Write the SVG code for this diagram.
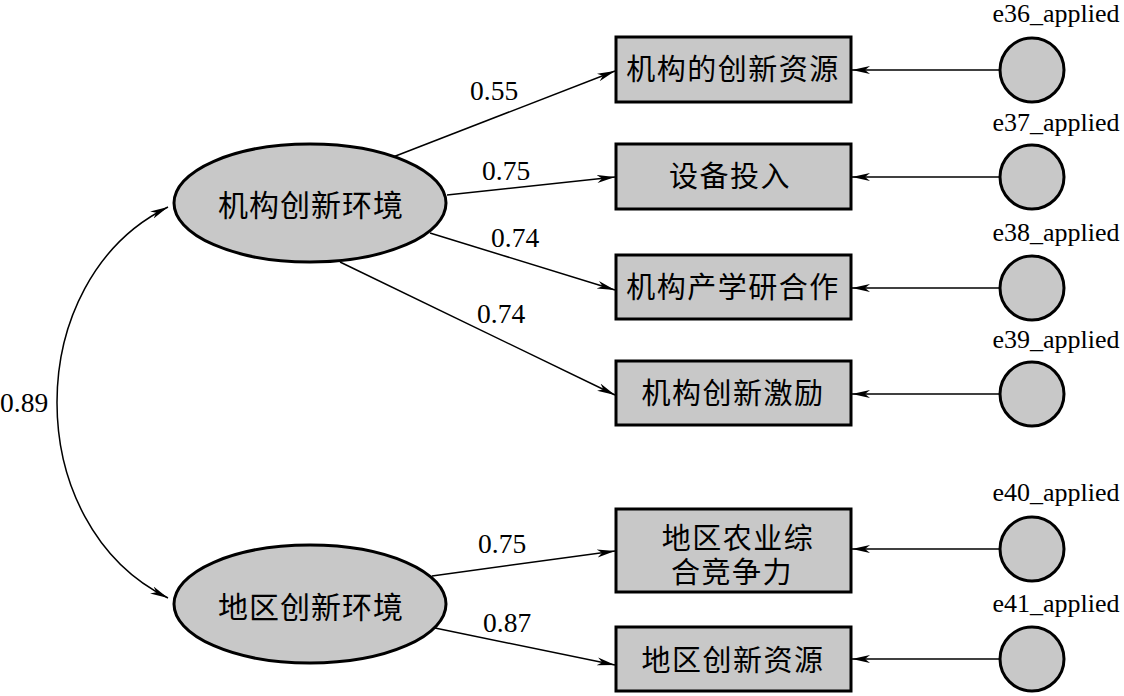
<svg xmlns="http://www.w3.org/2000/svg" width="1124" height="696" viewBox="0 0 1124 696">
<defs>
<marker id="arr" markerUnits="userSpaceOnUse" markerWidth="20" markerHeight="10" refX="18" refY="5" orient="auto-start-reverse">
<path d="M0,1 L18,5 L0,9 L5,5 z" fill="#000"/>
</marker>
</defs>
<style>
.box{fill:#c8c8c8;stroke:#000;stroke-width:3}
.lat{fill:#c8c8c8;stroke:#000;stroke-width:3}
.err{fill:#c8c8c8;stroke:#000;stroke-width:3}
.cn{font-size:29px;fill:#000;text-anchor:middle;letter-spacing:1.5px}
.cnl{font-size:30px;fill:#000;text-anchor:middle;letter-spacing:1px}
.num{font-size:27.5px;fill:#000}
.lbl{font-size:26px;fill:#000;text-anchor:middle}
.ln{fill:none;stroke:#000;stroke-width:1.5;marker-end:url(#arr)}
</style>
<rect width="1124" height="696" fill="#fff"/>
<g id="connectors">
<path class="ln" d="M168,207 C20,280 20,525 168,598" marker-start="url(#arr)"/>
<path class="ln" d="M393,157 L615,71"/>
<path class="ln" d="M447,195 L615,177"/>
<path class="ln" d="M430,233 L615,290"/>
<path class="ln" d="M340,262 L615,395"/>
<path class="ln" d="M432,576 L615,551"/>
<path class="ln" d="M435,628 L615,665"/>
<path class="ln" d="M999,70 L852,70"/>
<path class="ln" d="M999,177 L852,177"/>
<path class="ln" d="M999,288 L852,288"/>
<path class="ln" d="M999,394 L852,394"/>
<path class="ln" d="M999,549 L852,549"/>
<path class="ln" d="M999,659 L852,659"/>
<g font-family="Liberation Serif, Times New Roman, serif">
<text class="num" x="0" y="412">0.89</text>
<text class="num" x="470" y="100">0.55</text>
<text class="num" x="482" y="180">0.75</text>
<text class="num" x="491" y="247">0.74</text>
<text class="num" x="477" y="323">0.74</text>
<text class="num" x="478" y="553">0.75</text>
<text class="num" x="483" y="632">0.87</text>
</g>
</g>
<g font-family="Liberation Serif, Noto Sans CJK SC, serif">
<g id="lat1"><ellipse class="lat" cx="310" cy="203" rx="136" ry="59"/><text class="cnl" x="311" y="216">机构创新环境</text></g>
<g id="lat2"><ellipse class="lat" cx="310" cy="604" rx="136" ry="59"/><text class="cnl" x="311" y="618">地区创新环境</text></g>
<g id="box1"><rect class="box" x="616" y="37" width="235" height="65"/><text class="cn" x="733" y="80">机构的创新资源</text></g>
<g id="box2"><rect class="box" x="616" y="144" width="235" height="65"/><text class="cn" x="730" y="187">设备投入</text></g>
<g id="box3"><rect class="box" x="616" y="255" width="235" height="64"/><text class="cn" x="733" y="298">机构产学研合作</text></g>
<g id="box4"><rect class="box" x="616" y="361" width="235" height="64"/><text class="cn" x="733" y="404">机构创新激励</text></g>
<g id="box5"><rect class="box" x="616" y="509" width="235" height="83"/><text class="cn" x="738" y="549">地区农业综</text><text class="cn" x="732" y="583">合竞争力</text></g>
<g id="box6"><rect class="box" x="616" y="627" width="235" height="64"/><text class="cn" x="733" y="671">地区创新资源</text></g>
<g id="e36"><circle class="err" cx="1032" cy="70" r="32"/><text class="lbl" x="1056" y="22">e36_applied</text></g>
<g id="e37"><circle class="err" cx="1032" cy="177" r="32"/><text class="lbl" x="1056" y="131">e37_applied</text></g>
<g id="e38"><circle class="err" cx="1032" cy="288" r="32"/><text class="lbl" x="1056" y="241">e38_applied</text></g>
<g id="e39"><circle class="err" cx="1032" cy="394" r="32"/><text class="lbl" x="1056" y="348">e39_applied</text></g>
<g id="e40"><circle class="err" cx="1032" cy="549" r="32"/><text class="lbl" x="1056" y="501">e40_applied</text></g>
<g id="e41"><circle class="err" cx="1032" cy="659" r="32"/><text class="lbl" x="1056" y="612">e41_applied</text></g>
</g>
</svg>
